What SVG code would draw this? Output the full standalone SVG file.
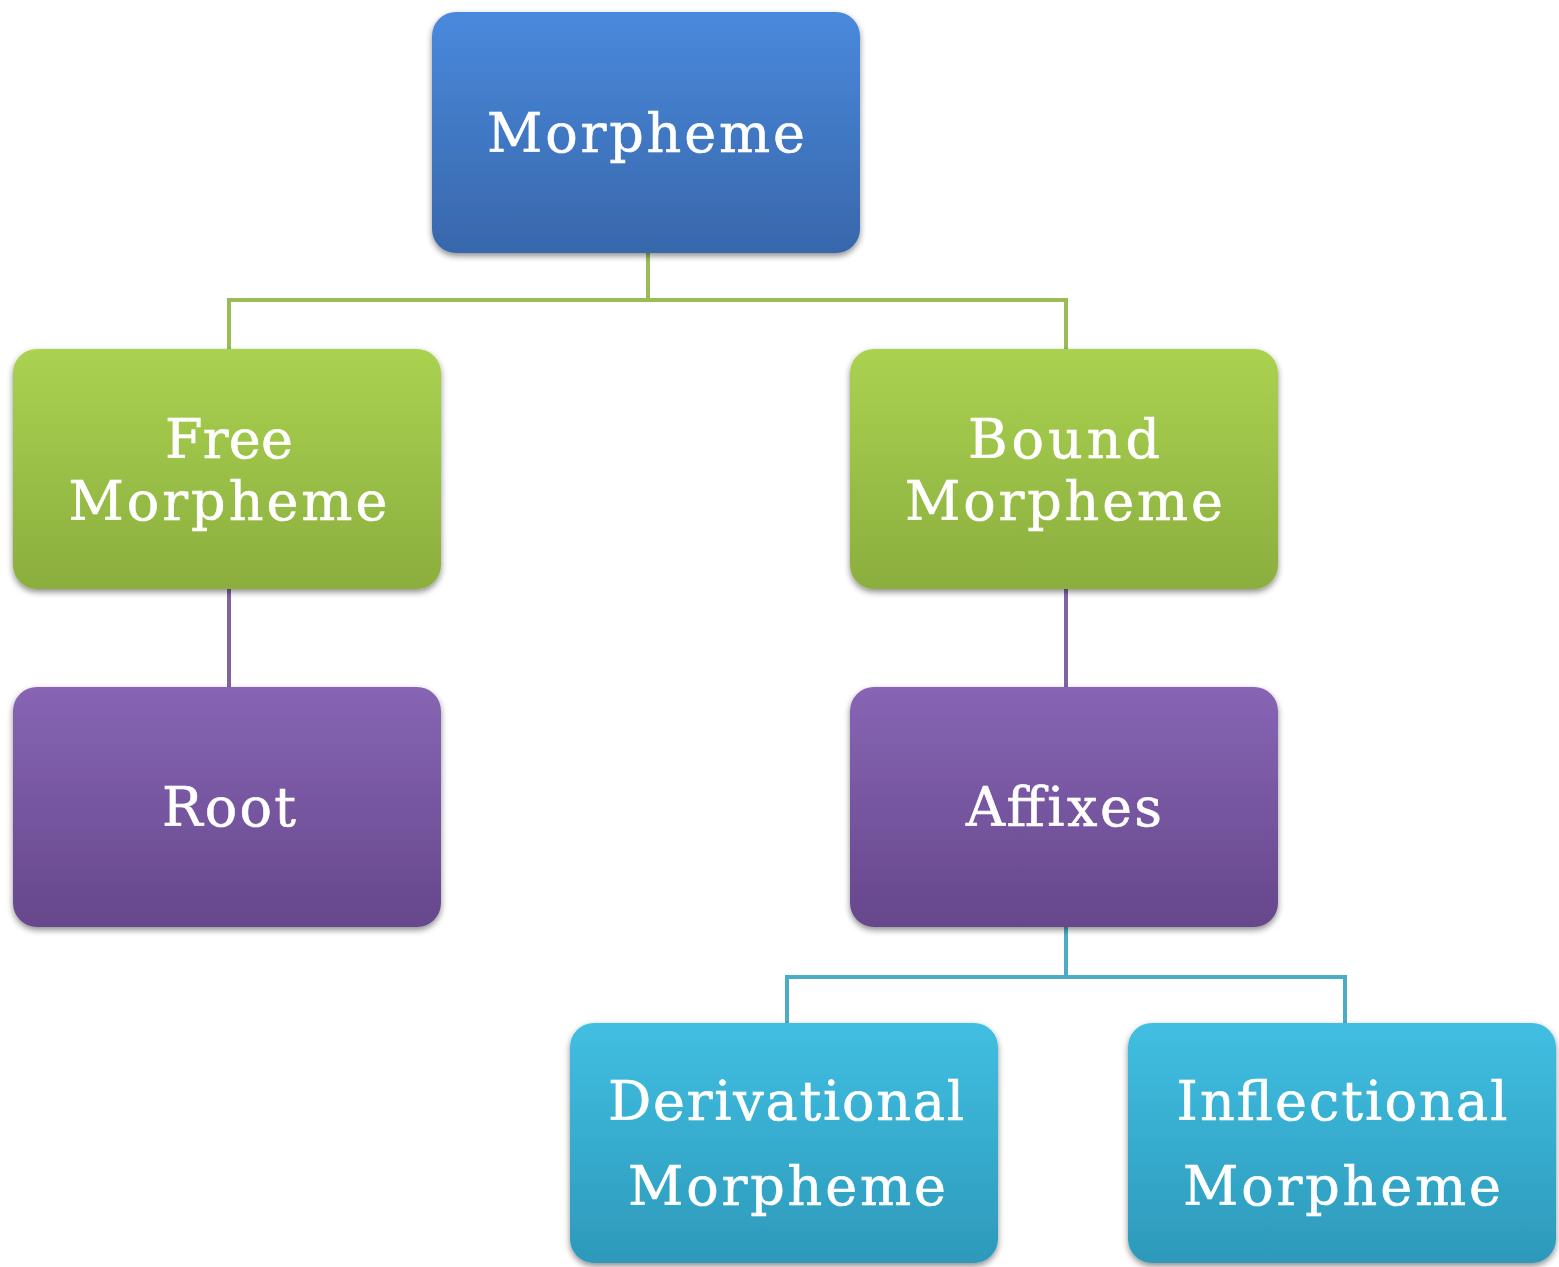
<svg xmlns="http://www.w3.org/2000/svg" width="1559" height="1267" viewBox="0 0 1559 1267">
<defs>
<linearGradient id="gBlue" x1="0" y1="0" x2="0" y2="1"><stop offset="0" stop-color="#4a89dc"/><stop offset="1" stop-color="#3867ab"/></linearGradient>
<linearGradient id="gGreen" x1="0" y1="0" x2="0" y2="1"><stop offset="0" stop-color="#aad250"/><stop offset="1" stop-color="#8bae3e"/></linearGradient>
<linearGradient id="gPurple" x1="0" y1="0" x2="0" y2="1"><stop offset="0" stop-color="#8765b4"/><stop offset="1" stop-color="#66478c"/></linearGradient>
<linearGradient id="gTeal" x1="0" y1="0" x2="0" y2="1"><stop offset="0" stop-color="#40bfe2"/><stop offset="1" stop-color="#2d99ba"/></linearGradient>
<filter id="sh" x="-10%" y="-10%" width="120%" height="125%"><feDropShadow dx="0" dy="3" stdDeviation="3" flood-color="#000" flood-opacity="0.45"/></filter>
</defs>
<style>
.box{filter:url(#sh)}
.t{font-family:"DejaVu Serif","Liberation Serif",serif;font-size:54px;fill:#ffffff;stroke:#ffffff;stroke-width:0.6;text-anchor:middle}
.c{fill:none;stroke-width:4}
</style>
<rect width="1559" height="1267" fill="#ffffff"/>
<g id="connectors">
<path class="c" stroke="#9bbb59" d="M648 253 V300 M229 300 H1066 M229 298 V349 M1066 298 V349"/>
<path class="c" stroke="#8064a2" d="M229 589 V687 M1066 589 V687"/>
<path class="c" stroke="#4bacc6" d="M1066 927 V977 M787 977 H1345 M787 975 V1023 M1345 975 V1023"/>
</g>
<g id="n-morpheme"><rect class="box" x="432" y="12" width="428" height="241" rx="24" fill="url(#gBlue)"/><text class="t" x="646" y="152" textLength="318">Morpheme</text></g>
<g id="n-free"><rect class="box" x="13" y="349" width="428" height="240" rx="24" fill="url(#gGreen)"/><text class="t" x="229" y="458" textLength="128">Free</text><text class="t" x="228" y="520" textLength="319">Morpheme</text></g>
<g id="n-bound"><rect class="box" x="850" y="349" width="428" height="240" rx="24" fill="url(#gGreen)"/><text class="t" x="1064" y="458" textLength="192">Bound</text><text class="t" x="1064" y="520" textLength="318">Morpheme</text></g>
<g id="n-root"><rect class="box" x="13" y="687" width="428" height="240" rx="24" fill="url(#gPurple)"/><text class="t" x="229" y="826" textLength="134">Root</text></g>
<g id="n-affixes"><rect class="box" x="850" y="687" width="428" height="240" rx="24" fill="url(#gPurple)"/><text class="t" x="1064" y="826" textLength="196">Affixes</text></g>
<g id="n-deriv"><rect class="box" x="570" y="1023" width="428" height="240" rx="24" fill="url(#gTeal)"/><text class="t" x="786" y="1120" textLength="356">Derivational</text><text class="t" x="787" y="1205" textLength="318">Morpheme</text></g>
<g id="n-infl"><rect class="box" x="1128" y="1023" width="428" height="240" rx="24" fill="url(#gTeal)"/><text class="t" x="1342" y="1120" textLength="331">Inflectional</text><text class="t" x="1342" y="1205" textLength="318">Morpheme</text></g>
</svg>
